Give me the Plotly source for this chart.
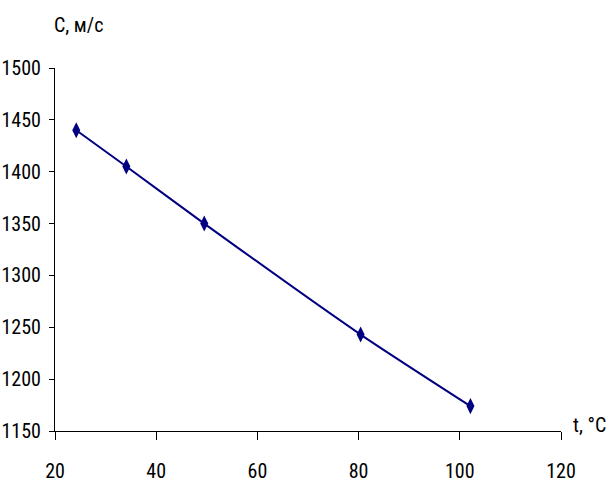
import plotly.graph_objects as go

# Speed of sound vs temperature
temperature = [24.2, 34.1, 49.5, 80.4, 102.1]
speed = [1440, 1405, 1350, 1243, 1174]

x_ticks = [20, 40, 60, 80, 100, 120]
y_ticks = [1150, 1200, 1250, 1300, 1350, 1400, 1450, 1500]

navy = "#000080"
font_family = "Roboto Condensed, Liberation Sans Narrow, Arial Narrow, sans-serif"

fig = go.Figure()
fig.add_trace(go.Scatter(
    x=temperature,
    y=speed,
    mode="lines+markers",
    line=dict(color=navy, width=2, shape="spline", smoothing=0.6),
    marker=dict(symbol="diamond-tall", size=11.5, color=navy),
    showlegend=False,
))

fig.update_layout(
    width=606,
    height=483,
    margin=dict(l=55, r=45, t=68, b=52),
    paper_bgcolor="white",
    plot_bgcolor="white",
    font=dict(family=font_family, size=20, color="black", weight=400),
    xaxis=dict(
        range=[20, 120],
        tickvals=x_ticks,
        showgrid=False,
        zeroline=False,
        showline=True,
        linecolor="black",
        linewidth=1,
        ticks="outside",
        ticklen=8,
        tickcolor="black",
        ticklabelstandoff=14,
        automargin=False,
    ),
    yaxis=dict(
        range=[1150, 1500],
        tickvals=y_ticks,
        showgrid=False,
        zeroline=False,
        showline=True,
        linecolor="black",
        linewidth=1,
        ticks="outside",
        ticklen=5,
        tickcolor="black",
        ticklabelstandoff=4,
        automargin=False,
    ),
    annotations=[
        dict(text="С, м/с", xref="paper", yref="paper", x=0.0, y=1.0,
             xanchor="left", yanchor="middle", xshift=-3, yshift=43, showarrow=False,
             font=dict(family=font_family, size=20)),
        dict(text="t, °C", xref="paper", yref="paper", x=1.0, y=0.0,
             xanchor="left", yanchor="middle", xshift=10, yshift=6, showarrow=False,
             font=dict(family=font_family, size=20)),
    ],
)

fig.write_html("out.html")
